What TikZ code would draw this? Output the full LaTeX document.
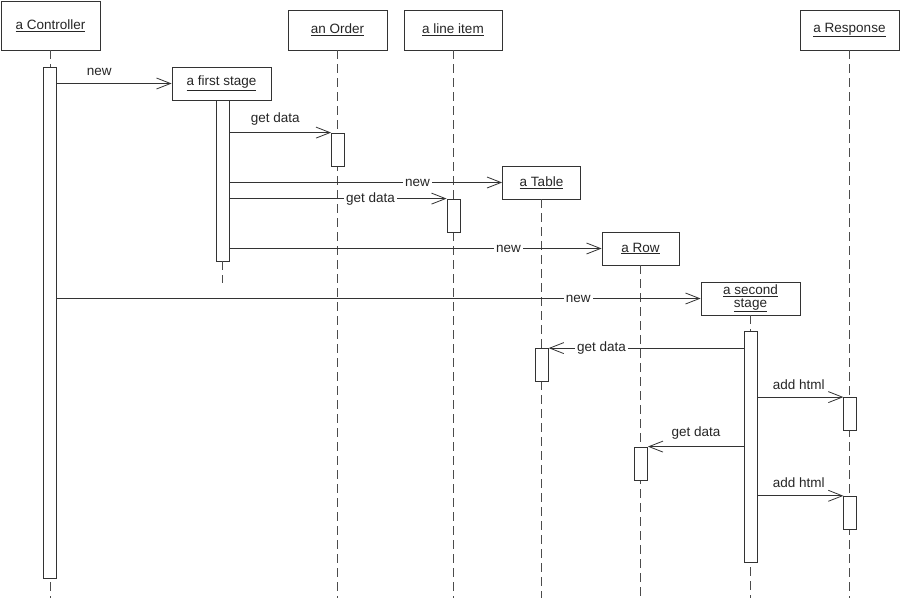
\documentclass[tikz,border=0pt]{standalone}
\usepackage{fontspec}
\setmainfont{Liberation Sans}
\usepackage{tikz}
\usetikzlibrary{arrows.meta, positioning}

\begin{document}
\begin{tikzpicture}[
                x=1pt, y=-1pt,
                line width=0.8pt,
                every node/.style={font=\fontsize{13.5}{13}\selectfont, text=black!85},
                obj/.style={draw=black!80, fill=white, align=center, inner sep=0pt},
                act/.style={draw=black!80, fill=white, minimum width=13pt, inner sep=0pt},
                life/.style={draw=black!70, dash pattern=on 9pt off 5pt},
                msg/.style={draw=black!80, -{Straight Barb[length=14pt, width=11pt]}},
                lbl/.style={fill=white, inner sep=2pt},
                top/.style={above=4pt}
            ]
            \useasboundingbox (0,0) rectangle (900,600);

            % Objets en haut
            \node[obj, minimum width=99pt, minimum height=49pt] (ctrl) at (50.5,25.5) {\underline{a Controller}};
            \node[obj, minimum width=99pt, minimum height=40pt] (ord) at (337.5,30) {\underline{an Order}};
            \node[obj, minimum width=98pt, minimum height=40pt] (li) at (453,30) {\underline{a line item}};
            \node[obj, minimum width=99pt, minimum height=40pt] (res) at (849.5,30) {\underline{a Response}};

            % Objets crees en cours de route
            \node[obj, minimum width=99pt, minimum height=33pt] (fs) at (221.5,83.5) {\underline{a first stage}};
            \node[obj, minimum width=78pt, minimum height=33pt] (tab) at (541.5,182.5) {\underline{a Table}};
            \node[obj, minimum width=77pt, minimum height=33pt] (row) at (640.5,248.5) {\underline{a Row}};
            \node[obj, minimum width=99pt, minimum height=33pt] (ss) at (750.5,298.5) {\underline{a second}\\\underline{stage}};

            % Lignes de vie
            \draw[life] (ctrl.south) -- (ctrl |- 0,598);
            \draw[life] (ord.south) -- (ord |- 0,598);
            \draw[life] (li.south) -- (li |- 0,598);
            \draw[life] (tab.south) -- (tab |- 0,598);
            \draw[life] (row.south) -- (row |- 0,598);
            \draw[life] (ss.south) -- (ss |- 0,598);
            \draw[life] (res.south) -- (res |- 0,598);

            % Activations
            \node[act, minimum height=511pt] (ctrlA) at (50,322.5) {};
            \node[act, minimum height=161pt] (fsA) at (222.5,180.5) {};
            \node[act, minimum height=33pt] (ordA) at (338,149.5) {};
            \node[act, minimum height=33pt] (liA) at (453.5,215.5) {};
            \node[act, minimum height=33pt] (tabA) at (541.8,365) {};
            \node[act, minimum height=33pt] (rowA) at (641,463.5) {};
            \node[act, minimum height=231pt] (ssA) at (750.8,447) {};
            \node[act, minimum height=33pt] (resA1) at (850.3,414) {};
            \node[act, minimum height=33pt] (resA2) at (850.3,512.7) {};
            \draw[life] (fsA.south) -- (fsA |- 0,283);

            % Messages
            \draw[msg] (ctrlA.east |- fs) -- node[top, pos=0.37] {new} (fs.west);
            \draw[msg] (fsA.east |- ordA.north) -- node[top, pos=0.45] {get data} (ordA.north west);
            \draw[msg] (fsA.east |- tab) -- node[lbl, pos=0.69] {new} (tab.west);
            \draw[msg] (fsA.east |- liA.north) -- node[lbl, pos=0.65] {get data} (liA.north west);
            \draw[msg] (fsA.east |- row) -- node[lbl, pos=0.75] {new} (row.west);
            \draw[msg] (ctrlA.east |- ss) -- node[lbl, pos=0.81] {new} (ss.west);
            \draw[msg] (ssA.west |- tabA.north) -- node[lbl, pos=0.73] {get data} (tabA.north east);
            \draw[msg] (ssA.east |- resA1.north) -- node[top, pos=0.48] {add html} (resA1.north west);
            \draw[msg] (ssA.west |- rowA.north) -- node[top, pos=0.5] {get data} (rowA.north east);
            \draw[msg] (ssA.east |- resA2.north) -- node[top, pos=0.48] {add html} (resA2.north west);
        \end{tikzpicture}
\end{document}
